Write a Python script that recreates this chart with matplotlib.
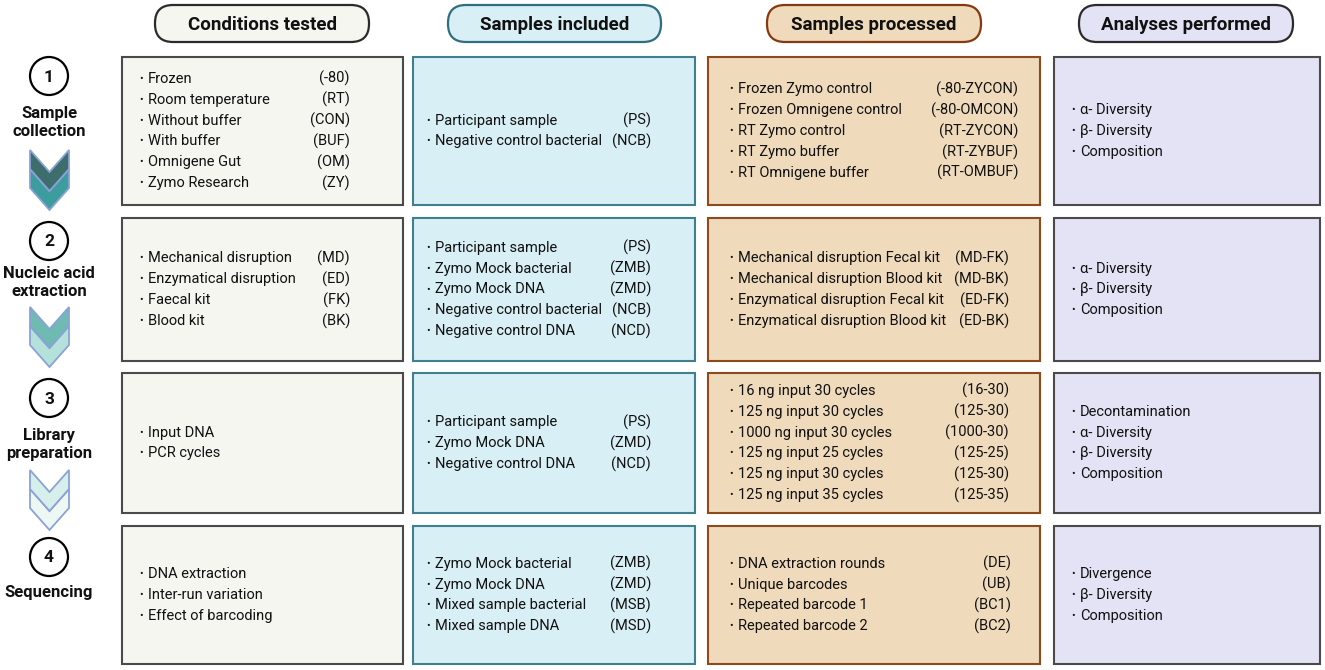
import matplotlib
matplotlib.use('Agg')
import matplotlib.pyplot as plt
from matplotlib.patches import FancyBboxPatch, Rectangle, Circle, Polygon

plt.rcParams['font.family'] = ['Roboto', 'DejaVu Sans']

# column headers
headers = ["Conditions tested", "Samples included", "Samples processed", "Analyses performed"]

# steps on the left
step_nums = ["1", "2", "3", "4"]
step_labels = ["Sample\ncollection", "Nucleic acid\nextraction", "Library\npreparation", "Sequencing"]

# column 1: conditions tested
cond_items = [
    ["Frozen", "Room temperature", "Without buffer", "With buffer", "Omnigene Gut", "Zymo Research"],
    ["Mechanical disruption", "Enzymatical disruption", "Faecal kit", "Blood kit"],
    ["Input DNA", "PCR cycles"],
    ["DNA extraction", "Inter-run variation", "Effect of barcoding"],
]
cond_codes = [
    ["(-80)", "(RT)", "(CON)", "(BUF)", "(OM)", "(ZY)"],
    ["(MD)", "(ED)", "(FK)", "(BK)"],
    [],
    [],
]

# column 2: samples included
incl_items = [
    ["Participant sample", "Negative control bacterial"],
    ["Participant sample", "Zymo Mock bacterial", "Zymo Mock DNA", "Negative control bacterial", "Negative control DNA"],
    ["Participant sample", "Zymo Mock DNA", "Negative control DNA"],
    ["Zymo Mock bacterial", "Zymo Mock DNA", "Mixed sample bacterial", "Mixed sample DNA"],
]
incl_codes = [
    ["(PS)", "(NCB)"],
    ["(PS)", "(ZMB)", "(ZMD)", "(NCB)", "(NCD)"],
    ["(PS)", "(ZMD)", "(NCD)"],
    ["(ZMB)", "(ZMD)", "(MSB)", "(MSD)"],
]

# column 3: samples processed
proc_items = [
    ["Frozen Zymo control", "Frozen Omnigene control", "RT Zymo control", "RT Zymo buffer", "RT Omnigene buffer"],
    ["Mechanical disruption Fecal kit", "Mechanical disruption Blood kit",
     "Enzymatical disruption Fecal kit", "Enzymatical disruption Blood kit"],
    ["16 ng input 30 cycles", "125 ng input 30 cycles", "1000 ng input 30 cycles",
     "125 ng input 25 cycles", "125 ng input 30 cycles", "125 ng input 35 cycles"],
    ["DNA extraction rounds", "Unique barcodes", "Repeated barcode 1", "Repeated barcode 2"],
]
proc_codes = [
    ["(-80-ZYCON)", "(-80-OMCON)", "(RT-ZYCON)", "(RT-ZYBUF)", "(RT-OMBUF)"],
    ["(MD-FK)", "(MD-BK)", "(ED-FK)", "(ED-BK)"],
    ["(16-30)", "(125-30)", "(1000-30)", "(125-25)", "(125-30)", "(125-35)"],
    ["(DE)", "(UB)", "(BC1)", "(BC2)"],
]

# column 4: analyses performed
anal_items = [
    ["α- Diversity", "β- Diversity", "Composition"],
    ["α- Diversity", "β- Diversity", "Composition"],
    ["Decontamination", "α- Diversity", "β- Diversity", "Composition"],
    ["Divergence", "β- Diversity", "Composition"],
]
anal_codes = [[], [], [], []]

columns = [(cond_items, cond_codes), (incl_items, incl_codes),
           (proc_items, proc_codes), (anal_items, anal_codes)]

# layout (pixels)
col_x = [(122, 403), (413, 695), (708, 1040), (1054, 1320)]
row_y = [(57, 205), (218, 361), (373, 513), (526, 664)]
pill_x = [(155, 369), (448, 661), (767, 981), (1079, 1293)]
pill_y = (5, 42)
fills = ['#f4f6ef', '#d8eff5', '#efdabb', '#e4e2f5']
edges = ['#4a4a4a', '#3f7f8e', '#8e4a1c', '#4a4a4a']
pill_edges = ['#2b2b2b', '#2f6e7e', '#86390f', '#2b2b2b']
bullet_x = [141, 428, 731, 1073]
code_right = [[350, 350, 350, 350], [651, 651, 651, 651],
              [1018, 1009, 1009, 1011], [0, 0, 0, 0]]
line_h = 20.9

circle_y = [76, 241, 398, 557]
label_y = [122.5, 282.5, 444.5, 593]
chev_top = [150, 307, 470]
chev_cols = [('#3e6e6c', '#3d9c9d'), ('#6fbab1', '#b5e1db'), ('#d7efeb', '#edf8f5')]

fig = plt.figure(figsize=(13.25, 6.7), dpi=100)
ax = fig.add_axes([0, 0, 1, 1])
ax.set_xlim(0, 1325)
ax.set_ylim(670, 0)
ax.axis('off')

# header pills
for c in range(4):
    x0, x1 = pill_x[c]
    p = FancyBboxPatch((x0 + 18, pill_y[0] + 18), x1 - x0 - 36, pill_y[1] - pill_y[0] - 36,
                       boxstyle="round,pad=18,rounding_size=18",
                       fc=fills[c], ec=pill_edges[c], lw=1.6)
    ax.add_patch(p)
    ax.text((x0 + x1) / 2, (pill_y[0] + pill_y[1]) / 2 + 1, headers[c], ha='center', va='center',
            fontsize=13.5, fontweight='bold', color='#111111')

# boxes and items
for c in range(4):
    items_all, codes_all = columns[c]
    x0, x1 = col_x[c]
    for r in range(4):
        y0, y1 = row_y[r]
        ax.add_patch(Rectangle((x0, y0), x1 - x0, y1 - y0, fc=fills[c], ec=edges[c], lw=1.5))
        items = items_all[r]
        codes = codes_all[r]
        n = len(items)
        yc = (y0 + y1) / 2
        for i in range(n):
            y = yc + (i - (n - 1) / 2) * line_h
            ax.text(bullet_x[c], y, "•", ha='center', va='center', fontsize=7.5, color='#111111')
            ax.text(bullet_x[c] + 7, y, items[i], ha='left', va='center', fontsize=10.5, color='#111111')
            if i < len(codes):
                ax.text(code_right[c][r], y, codes[i], ha='right', va='center', fontsize=10.5,
                        color='#111111')

# steps: circles + labels
for s in range(4):
    ax.add_patch(Circle((49, circle_y[s]), 19, fc='white', ec='black', lw=1.6))
    ax.text(49, circle_y[s] + 1, step_nums[s], ha='center', va='center', fontsize=12.5,
            fontweight='bold', color='#111111')
    ax.text(49, label_y[s], step_labels[s], ha='center', va='center', fontsize=12,
            fontweight='bold', color='#111111', linespacing=1.3)

# double chevrons
xl, xr, xm = 30, 69, 49.5
side, depth, off = 19, 22, 19
for k in range(3):
    t = chev_top[k]
    for j in (1, 0):
        tt = t + j * off
        pts = [(xl, tt), (xm, tt + depth), (xr, tt), (xr, tt + side),
               (xm, tt + side + depth), (xl, tt + side)]
        ax.add_patch(Polygon(pts, closed=True, fc=chev_cols[k][j], ec='#8aa2d8', lw=1.3,
                             joinstyle='miter'))

fig.savefig('out.png', dpi=100)
